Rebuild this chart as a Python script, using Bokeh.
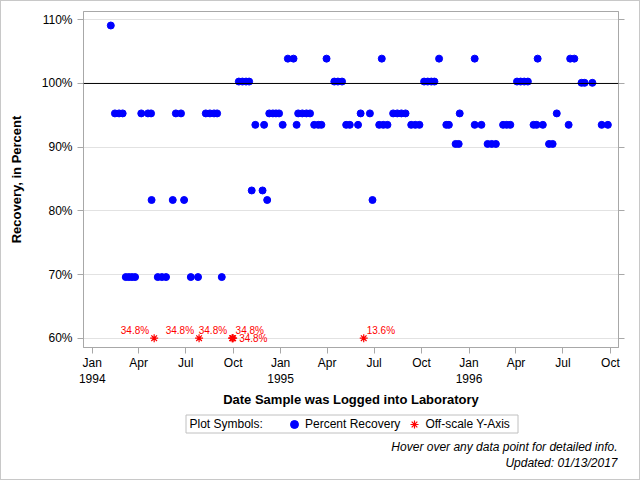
import pandas as pd
from bokeh.plotting import figure
from bokeh.layouts import column
from bokeh.models import (ColumnDataSource, Range1d, FixedTicker, LinearAxis, Span,
                          Legend, LegendItem, Label, PrintfTickFormatter, HoverTool)
from bokeh.embed import file_html
from bokeh.resources import INLINE
from bokeh.core.properties import value

FONT = "Liberation Sans"

# Percent recovery by date the sample was logged into the laboratory
sample_dates = [
    "1994-02-06", "1994-02-14", "1994-02-22", "1994-03-01", "1994-03-07", "1994-03-13",
    "1994-03-19", "1994-03-25", "1994-04-06", "1994-04-19", "1994-04-25", "1994-04-26",
    "1994-05-08", "1994-05-16", "1994-05-24", "1994-06-06", "1994-06-12", "1994-06-22",
    "1994-06-28", "1994-07-11", "1994-07-25", "1994-08-09", "1994-08-17", "1994-08-25",
    "1994-08-31", "1994-09-09", "1994-10-12", "1994-10-19", "1994-10-26", "1994-11-01",
    "1994-11-06", "1994-11-13", "1994-11-27", "1994-11-30", "1994-12-06", "1994-12-10",
    "1994-12-17", "1994-12-23", "1994-12-29",
    "1995-01-05", "1995-01-15", "1995-01-26", "1995-02-01", "1995-02-04", "1995-02-12",
    "1995-02-20", "1995-02-27", "1995-03-07", "1995-03-15", "1995-03-21", "1995-03-31",
    "1995-04-15", "1995-04-22", "1995-04-30", "1995-05-08", "1995-05-15", "1995-05-31",
    "1995-06-05", "1995-06-23", "1995-06-28", "1995-07-11", "1995-07-16", "1995-07-19",
    "1995-07-27", "1995-08-07", "1995-08-15", "1995-08-23", "1995-08-31", "1995-09-11",
    "1995-09-19", "1995-09-27", "1995-10-06", "1995-10-13", "1995-10-20", "1995-10-26",
    "1995-11-04", "1995-11-18", "1995-11-23", "1995-12-06", "1995-12-12", "1995-12-14",
    "1996-01-12", "1996-01-12", "1996-01-25", "1996-02-06", "1996-02-14", "1996-02-22",
    "1996-03-07", "1996-03-14", "1996-03-21", "1996-04-03", "1996-04-10", "1996-04-17",
    "1996-04-24", "1996-05-05", "1996-05-11", "1996-05-13", "1996-05-23", "1996-06-04",
    "1996-06-11", "1996-06-19", "1996-07-12", "1996-07-15", "1996-07-23", "1996-08-06",
    "1996-08-12", "1996-08-27", "1996-09-14", "1996-09-26",
]
recovery_pct = [
    109.1, 95.3, 95.3, 95.3, 69.6, 69.6,
    69.6, 69.6, 95.3, 95.3, 95.3, 81.7,
    69.6, 69.6, 69.6, 81.7, 95.3, 95.3,
    81.7, 69.6, 69.6, 95.3, 95.3, 95.3,
    95.3, 69.6, 100.3, 100.3, 100.3, 100.3,
    83.2, 93.5, 83.2, 93.5, 81.7, 95.3,
    95.3, 95.3, 95.3,
    93.5, 103.9, 103.9, 93.5, 95.3, 95.3,
    95.3, 95.3, 93.5, 93.5, 93.5, 103.9,
    100.3, 100.3, 100.3, 93.5, 93.5, 93.5,
    95.3, 95.3, 81.7, 93.5, 103.9, 93.5,
    93.5, 95.3, 95.3, 95.3, 95.3, 93.5,
    93.5, 93.5, 100.3, 100.3, 100.3, 100.3,
    103.9, 93.5, 93.5, 90.5, 90.5, 95.3,
    103.9, 93.5, 93.5, 90.5, 90.5, 90.5,
    93.5, 93.5, 93.5, 100.3, 100.3, 100.3,
    100.3, 93.5, 93.5, 103.9, 93.5, 90.5,
    90.5, 95.3, 93.5, 103.9, 103.9, 100.1,
    100.1, 100.1, 93.5, 93.5,
]

# Recoveries below the lower limit of the y-axis
offscale_dates = ["1994-05-01", "1994-07-27", "1994-09-29", "1994-09-30", "1994-10-01", "1995-06-11"]
offscale_pct = [34.8, 34.8, 34.8, 34.8, 34.8, 13.6]
offscale_label_side = ["upper_left", "upper_left", "upper_left", "upper_right", "right", "upper_right"]

# Quarterly date ticks
tick_dates = ["1994-01-01", "1994-04-01", "1994-07-01", "1994-10-01",
              "1995-01-01", "1995-04-01", "1995-07-01", "1995-10-01",
              "1996-01-01", "1996-04-01", "1996-07-01", "1996-10-01"]
tick_labels = ["Jan\n1994", "Apr", "Jul", "Oct", "Jan\n1995", "Apr", "Jul", "Oct",
               "Jan\n1996", "Apr", "Jul", "Oct"]
y_ticks = [60, 70, 80, 90, 100, 110]

Y_MIN, Y_MAX = 58.54, 111.3


def to_ms(d):
    return int(pd.Timestamp(d).value // 10**6)


day_ms = 86400000
x_start = to_ms("1994-01-01") - 16.9 * day_ms
x_end = to_ms("1994-01-01") + 1019.6 * day_ms

pts = ColumnDataSource(dict(
    x=pd.to_datetime(sample_dates),
    y=recovery_pct,
    label=[f"{v:.1f}%" for v in recovery_pct],
    date=sample_dates,
))

side_style = {
    "upper_left": dict(align="right", dx=-5, dy=-8),
    "upper_right": dict(align="left", dx=3, dy=-8),
    "right": dict(align="left", dx=6, dy=0),
}
off = ColumnDataSource(dict(
    x=pd.to_datetime(offscale_dates),
    y=[max(v, Y_MIN + 1.46) for v in offscale_pct],
    label=[f"{v:.1f}%" for v in offscale_pct],
    date=offscale_dates,
    align=[side_style[s]["align"] for s in offscale_label_side],
    dx=[side_style[s]["dx"] for s in offscale_label_side],
    dy=[side_style[s]["dy"] for s in offscale_label_side],
))

DOT = dict(marker="circle", fill_color="#0000ff", line_color="#0000ff")
STAR = dict(marker="asterisk", line_color="#ff0000", line_width=1.2)

LEFT, RIGHT = 83, 618  # plot-area edges shared by both panels

# ---- main scatter plot ----
p = figure(width=640, height=410, x_axis_type="datetime",
           x_range=Range1d(x_start, x_end), y_range=Range1d(Y_MIN, Y_MAX),
           output_backend="svg", toolbar_location=None, tools="",
           min_border_left=LEFT, min_border_right=640 - RIGHT, min_border_top=11,
           min_border_bottom=63)
p.background_fill_color = "white"
p.border_fill_color = "white"
p.outline_line_color = "#a8a8a8"
p.outline_line_width = 1

p.xgrid.grid_line_color = None
p.ygrid.grid_line_color = "#e2e2e2"
p.ygrid.ticker = FixedTicker(ticks=y_ticks)

ya = p.yaxis[0]
ya.ticker = FixedTicker(ticks=y_ticks)
ya.formatter = PrintfTickFormatter(format="%d%%")
ya.axis_label = "Recovery, in Percent"

xa = p.xaxis[0]
xa.ticker = FixedTicker(ticks=[to_ms(d) for d in tick_dates])
xa.major_label_overrides = {to_ms(d): lab for d, lab in zip(tick_dates, tick_labels)}
xa.axis_label = "Date Sample was Logged into Laboratory"

for ax in (xa, ya):
    ax.axis_line_color = "#a8a8a8"
    ax.major_tick_line_color = "#a8a8a8"
    ax.major_tick_out = 6
    ax.major_tick_in = 0
    ax.minor_tick_line_color = None
    ax.major_label_text_font = FONT
    ax.major_label_text_font_size = "12px"
    ax.major_label_text_color = "#000000"
    ax.axis_label_text_font = FONT
    ax.axis_label_text_font_size = "13px"
    ax.axis_label_text_font_style = "bold"
    ax.axis_label_text_color = "#000000"
ya.major_label_standoff = 5
ya.axis_label_standoff = 15
xa.major_label_standoff = 2
xa.axis_label_standoff = 3

# right axis: ticks only
ra = LinearAxis(ticker=FixedTicker(ticks=y_ticks), major_label_text_color=None,
                axis_line_color="#a8a8a8", major_tick_line_color="#a8a8a8",
                major_tick_out=6, major_tick_in=0, minor_tick_line_color=None,
                major_label_text_font_size="1px")
p.add_layout(ra, "right")

# 100% reference line
p.add_layout(Span(location=100, dimension="width", line_color="black", line_width=1))

r_pts = p.scatter("x", "y", source=pts, size=7, **DOT)
r_off = p.scatter("x", "y", source=off, size=8, **STAR)
p.text("x", "y", text="label", source=off, text_color="#ff0000",
       text_font=value(FONT), text_font_size="10px", text_align="align",
       text_baseline="middle", x_offset="dx", y_offset="dy")

p.add_tools(HoverTool(renderers=[r_pts, r_off],
                      tooltips=[("Date", "@date"), ("Recovery", "@label")]))

# ---- legend and footnotes strip (page-pixel x, y downward) ----
f = figure(width=640, height=70, x_range=Range1d(LEFT, RIGHT), y_range=Range1d(70, 0),
           output_backend="svg", toolbar_location=None, tools="",
           min_border_left=LEFT, min_border_right=640 - RIGHT,
           min_border_top=0, min_border_bottom=0,
           x_axis_location=None, y_axis_location=None)
f.grid.grid_line_color = None
f.outline_line_color = None
f.background_fill_color = "white"
f.border_fill_color = "white"

f.quad(left=[185.5], right=[517.5], top=[4.5], bottom=[22.5],
       fill_color="white", line_color="#c0c0c0", line_width=1)
f.add_layout(Label(x=189, y=13.5, text="Plot Symbols:", text_font=FONT,
                   text_font_size="12px", text_baseline="middle", text_color="#000000"))

# sample glyphs for the legend, parked outside the visible area
leg_dot = f.scatter(x=[-100], y=[-100], size=7, **DOT)
leg_star = f.scatter(x=[-100], y=[-100], size=8, **STAR)
legend = Legend(items=[LegendItem(label="Percent Recovery", renderers=[leg_dot]),
                       LegendItem(label="Off-scale Y-Axis", renderers=[leg_star])],
                orientation="horizontal", location=(284 - LEFT, 46),
                label_text_font=FONT, label_text_font_size="12px",
                label_text_color="#000000",
                glyph_width=20, glyph_height=20, label_height=20,
                label_standoff=1, spacing=4, padding=0, margin=0,
                border_line_color=None, background_fill_alpha=0)
f.add_layout(legend, "center")

foot = dict(text_align="right", text_baseline="middle", text_font=FONT,
            text_font_size="12px", text_font_style="italic", text_color="#000000")
f.add_layout(Label(x=RIGHT - 1, y=36, text="Hover over any data point for detailed info.", **foot))
f.add_layout(Label(x=RIGHT - 1, y=52, text="Updated: 01/13/2017", **foot))

page = column(p, f, spacing=0)
page.stylesheets = [":host { position: relative; } "
                    ":host::after { content: ''; position: absolute; left: 0; top: 0; "
                    "right: 0; bottom: 0; border: 1px solid #c8c8c8; "
                    "pointer-events: none; box-sizing: border-box; z-index: 5; }"]

open("out.html", "w").write(file_html(page, INLINE))
